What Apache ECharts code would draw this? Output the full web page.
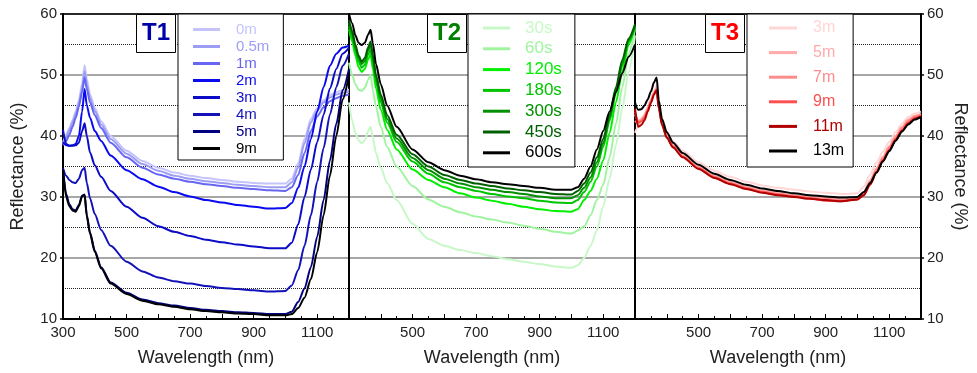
<!DOCTYPE html>
<html><head><meta charset="utf-8">
<script src="https://cdn.jsdelivr.net/npm/echarts@6/dist/echarts.min.js"></script>
<style>html,body{margin:0;padding:0;background:#fff}#c{width:977px;height:373px}</style>
</head><body><div id="c"></div>
<script>
// ---- data ----
const wavelengths = [300,310,320,330,340,350,360,368,375,385,400,420,450,500,550,600,650,700,750,800,850,900,950,1000,1020,1040,1060,1080,1100,1120,1140,1160,1180,1200];
const xTickLabels = [300,500,700,900,1100];
const yTickLabels = [10,20,30,40,50,60];

const t1Names = ['0m','0.5m','1m','2m','3m','4m','5m','9m'];
const t1_0m  = [38.9,40.2,41.3,42.6,44.0,45.9,48.6,51.6,49.3,46.8,44.6,42.4,40.0,37.6,35.9,34.8,34.0,33.5,33.1,32.8,32.5,32.3,32.2,32.2,33.0,35.5,39.5,42.8,44.6,45.8,46.7,47.2,47.5,47.6];
const t1_05m = [38.7,39.8,40.9,42.2,43.6,45.3,47.8,50.6,48.5,46.2,44.1,41.9,39.5,37.1,35.4,34.3,33.5,33.0,32.6,32.3,32.0,31.8,31.6,31.6,32.4,34.8,38.8,42.2,44.2,45.5,46.3,46.8,47.1,47.2];
const t1_1m  = [38.5,39.2,40.2,41.5,43.0,44.8,47.2,49.6,47.7,45.5,43.4,41.3,38.9,36.5,34.8,33.7,33.0,32.5,32.1,31.8,31.5,31.3,31.1,31.0,31.6,33.6,37.2,40.8,43.2,44.7,45.7,46.2,46.6,46.8];
const t1_2m  = [39.0,38.5,38.4,38.5,38.7,40.0,44.0,47.7,45.0,43.0,40.8,39.2,36.8,34.4,32.9,31.7,30.8,30.1,29.5,29.1,28.7,28.4,28.1,28.2,29.0,31.5,35.0,39.5,44.0,48.0,51.5,53.5,54.5,54.8];
const t1_3m  = [41.0,38.7,38.4,38.4,38.5,38.9,40.8,42.1,40.0,37.3,35.2,33.3,31.0,28.4,26.6,25.2,24.3,23.6,23.0,22.6,22.2,21.9,21.6,21.6,22.5,25.5,30.0,34.5,39.0,43.5,47.8,51.0,53.5,54.5];
const t1_4m  = [34.7,33.5,32.8,32.4,32.3,33.0,34.4,34.8,32.3,29.8,27.2,24.6,22.0,19.4,17.8,16.8,16.2,15.8,15.4,15.1,14.9,14.7,14.5,14.6,15.5,18.0,22.0,27.0,32.5,38.0,43.5,48.0,51.5,53.5];
const t1_5m  = [34.6,30.5,28.8,28.0,27.8,28.7,30.2,30.4,27.0,24.2,21.2,18.5,16.0,14.3,13.2,12.6,12.2,11.8,11.5,11.3,11.1,11.0,10.8,10.8,11.2,12.8,15.0,18.5,23.5,29.5,36.0,42.0,47.5,51.0];
const t1_9m  = [34.5,30.0,28.5,27.8,27.6,28.5,30.1,30.3,26.8,24.0,21.0,18.3,15.8,14.1,13.0,12.4,12.0,11.6,11.3,11.1,10.9,10.8,10.6,10.6,10.8,11.8,13.5,16.5,21.0,27.0,33.5,40.0,46.0,50.0];

const t2Names = ['30s','60s','120s','180s','300s','450s','600s'];
const t2_30s  = [45.5,42.5,40.5,39.3,38.8,39.3,40.8,41.5,39.8,37.2,34.8,32.3,29.5,25.6,23.1,22.0,21.3,20.8,20.3,19.8,19.4,19.0,18.6,18.4,18.8,20.0,22.0,24.5,28.5,33.0,38.5,44.5,50.5,56.5];
const t2_60s  = [52.0,50.0,48.5,47.6,47.4,47.9,49.2,50.0,47.5,44.8,41.5,38.2,35.0,31.8,29.6,28.4,27.5,26.8,26.3,25.8,25.3,24.8,24.3,24.0,24.5,25.2,27.0,29.5,32.0,36.5,42.0,48.0,53.5,57.5];
const t2_120s = [57.5,55.5,53.2,51.3,50.5,51.0,52.5,53.4,51.0,47.8,44.3,41.0,37.8,34.5,32.8,31.6,30.6,29.9,29.4,28.9,28.4,28.0,27.7,27.6,28.0,29.5,31.0,33.0,36.0,40.5,45.5,50.5,55.0,58.0];
const t2_180s = [58.0,56.2,54.0,52.2,51.2,51.7,53.3,54.2,52.0,48.8,45.5,42.2,39.0,35.8,33.8,32.4,31.6,31.0,30.5,30.1,29.8,29.4,29.1,29.0,29.5,30.8,32.5,35.0,38.2,42.5,47.0,51.5,55.5,57.8];
const t2_300s = [58.5,56.8,54.5,52.8,51.8,52.3,54.0,55.0,52.8,49.5,46.2,42.8,39.6,36.4,34.4,33.0,32.2,31.6,31.2,30.8,30.5,30.1,29.8,29.8,30.3,31.5,33.2,35.7,38.8,43.0,47.5,52.0,55.8,58.0];
const t2_450s = [59.0,57.2,55.0,53.2,52.2,52.8,54.5,55.5,53.3,50.0,46.8,43.4,40.2,37.0,35.0,33.6,32.8,32.2,31.8,31.4,31.1,30.8,30.5,30.4,31.0,32.2,34.0,36.5,39.5,43.5,48.0,52.5,56.0,58.3];
const t2_600s = [60.0,58.5,56.5,55.3,54.9,55.3,56.6,57.4,55.2,51.8,48.5,45.0,41.5,37.8,35.7,34.4,33.5,32.9,32.4,32.1,31.8,31.5,31.2,31.2,31.6,33.0,35.0,37.8,40.8,44.0,47.2,50.3,53.0,55.0];

const t3Names = ['3m','5m','7m','9m','11m','13m'];
const t3_3m  = [40.5,41.5,42.5,43.5,44.8,46.0,47.4,48.3,45.3,42.6,40.6,39.1,37.6,35.7,34.3,33.3,32.5,31.9,31.5,31.2,30.9,30.7,30.5,30.6,31.7,33.7,35.6,37.4,39.0,40.6,42.0,43.1,43.7,44.0];
const t3_5m  = [43.5,42.5,42.8,43.5,44.6,45.9,47.2,47.9,44.9,42.2,40.1,38.5,36.9,35.0,33.5,32.5,31.7,31.1,30.7,30.3,30.0,29.8,29.6,29.8,30.8,32.8,34.7,36.6,38.3,40.0,41.5,42.7,43.3,43.6];
const t3_7m  = [42.5,42.0,42.5,43.2,44.4,45.7,47.0,47.7,44.7,42.0,39.9,38.3,36.7,34.8,33.3,32.3,31.5,30.9,30.5,30.2,29.9,29.7,29.5,29.7,30.6,32.5,34.5,36.4,38.1,39.8,41.3,42.5,43.2,43.5];
const t3_9m  = [44.0,42.3,42.4,43.0,44.2,45.6,46.9,47.6,44.6,41.9,39.8,38.2,36.6,34.7,33.2,32.2,31.4,30.8,30.4,30.1,29.8,29.4,29.3,29.6,30.4,32.2,34.2,36.1,37.8,39.5,41.0,42.2,43.0,43.3];
const t3_11m = [44.5,41.5,41.8,42.6,44.0,45.4,46.8,47.5,44.5,41.8,39.7,38.1,36.5,34.6,33.1,32.1,31.3,30.7,30.3,30.0,29.7,29.5,29.3,29.6,30.3,32.0,34.0,35.9,37.6,39.3,40.8,42.0,42.8,43.2];
const t3_13m = [45.5,44.3,44.4,45.0,46.0,47.3,48.8,49.6,45.8,42.8,40.6,38.9,37.2,35.3,33.8,32.8,32.0,31.4,31.0,30.6,30.3,30.1,29.9,30.0,30.8,32.3,34.0,35.8,37.5,39.2,40.7,41.9,42.7,43.1];

// ---- styles ----
const t1Colors = ['#c4c4fa','#9d9df5','#6666f2','#0a0af0','#0c0cc8','#1212b8','#000080','#000000'];
const t2Colors = ['#c8f8c8','#a0f4a0','#00f000','#00c400','#009000','#006000','#000000'];
const t3Colors = ['#ffd6d6','#ffabab','#ff8c8c','#ff5050','#b00000','#000000'];

const panels = [
  {tag:'T1', names:t1Names, colors:t1Colors, data:[t1_0m,t1_05m,t1_1m,t1_2m,t1_3m,t1_4m,t1_5m,t1_9m], titleColor:'#0000a8'},
  {tag:'T2', names:t2Names, colors:t2Colors, data:[t2_30s,t2_60s,t2_120s,t2_180s,t2_300s,t2_450s,t2_600s], titleColor:'#008000'},
  {tag:'T3', names:t3Names, colors:t3Colors, data:[t3_3m,t3_5m,t3_7m,t3_9m,t3_11m,t3_13m], titleColor:'#ff0000'}
];

const FONT = '"Liberation Sans", Arial, sans-serif';
const gridLefts = [63, 349, 635];
const gridW = 286;

const grids = gridLefts.map(l => ({left:l, top:14, width:gridW, height:305, show:false}));

const xAxes = [];
gridLefts.forEach((l, p) => {
  xAxes.push({
    gridIndex:p, type:'value', min:300, max:1200, interval:100, position:'bottom',
    axisLine:{show:true, onZero:false, lineStyle:{color:'#000', width:2}},
    axisTick:{show:true, inside:true, length:5, lineStyle:{color:'#000', width:1}},
    minorTick:{show:true, splitNumber:2, length:3, lineStyle:{color:'#000', width:1}},
    splitLine:{show:false},
    axisLabel:{fontSize:15, color:'#222', fontFamily:FONT, margin:6,
      formatter: v => (xTickLabels.includes(v) && !(p > 0 && v === 300)) ? String(v) : ''},
    name:'Wavelength (nm)', nameLocation:'middle', nameGap:30,
    nameTextStyle:{fontSize:18, color:'#222', fontFamily:FONT}
  });
});
gridLefts.forEach((l, p) => {
  xAxes.push({
    gridIndex:p, type:'value', min:300, max:1200, position:'top',
    axisLine:{show:true, onZero:false, lineStyle:{color:'#000', width:1.5}},
    axisTick:{show:false}, axisLabel:{show:false}, splitLine:{show:false}
  });
});

const yAxes = [];
gridLefts.forEach((l, p) => {
  yAxes.push({
    gridIndex:p, type:'value', min:10, max:60, interval:10, position:'left',
    axisLine:{show:true, onZero:false, lineStyle:{color:'#000', width:2}},
    axisTick:{show:p===0, length:3, lineStyle:{color:'#000', width:1.5}},
    axisLabel:{show:p===0, fontSize:15, color:'#222', fontFamily:FONT, margin:6,
      formatter: v => yTickLabels.includes(v) ? String(v) : ''},
    splitLine:{show:true, lineStyle:{color:'#8a8a8a', width:1.5}},
    minorTick:{show:false, splitNumber:2},
    minorSplitLine:{show:true, lineStyle:{color:'#222', type:'dotted', width:1}},
    name: p===0 ? 'Reflectance (%)' : '', nameLocation:'middle', nameGap:36,
    nameTextStyle:{fontSize:18, color:'#222', fontFamily:FONT}
  });
});
yAxes.push({
  gridIndex:2, type:'value', min:10, max:60, interval:10, position:'right',
  axisLine:{show:true, onZero:false, lineStyle:{color:'#000', width:2}},
  axisTick:{show:true, length:3, lineStyle:{color:'#000', width:1.5}},
  axisLabel:{fontSize:15, color:'#222', fontFamily:FONT, margin:6,
    formatter: v => yTickLabels.includes(v) ? String(v) : ''},
  splitLine:{show:false},
  name:'Reflectance (%)', nameLocation:'middle', nameGap:30, nameRotate:-90,
  nameTextStyle:{fontSize:18, color:'#222', fontFamily:FONT}
});

const series = [];
panels.forEach((pn, p) => {
  pn.names.forEach((nm, i) => {
    series.push({
      name: pn.tag + ' ' + nm, type:'line', xAxisIndex:p, yAxisIndex:p,
      data: wavelengths.map((w, k) => [w, pn.data[i][k]]),
      showSymbol:false, symbol:'none', smooth:0.25, smoothMonotone:'x',
      lineStyle:{width:2, color:pn.colors[i]}, itemStyle:{color:pn.colors[i]},
      emphasis:{disabled:true}, z:2 + i*0.01
    });
  });
});

const legendBoxes = [
  {left:178, padding:[8,14,4,15], fontSize:15, lineHeight:14, gap:2, textPad:11, iconW:27},
  {left:468, padding:[5.5,13,5.7,15], fontSize:17, lineHeight:17, gap:3.8, textPad:10, iconW:27},
  {left:747, padding:[6,9,8,22], fontSize:16, lineHeight:16, gap:8.6, textPad:11, iconW:28}
];
const legends = panels.map((pn, p) => {
  const lb = legendBoxes[p];
  return {
    orient:'vertical', left:lb.left, top:14, padding:lb.padding, itemGap:lb.gap,
    itemWidth:lb.iconW, itemHeight:3, icon:'rect', selectedMode:false,
    backgroundColor:'#fff', borderColor:'#000', borderWidth:1, borderRadius:0,
    formatter: name => name.replace(/^T\d /, ''),
    textStyle:{fontSize:lb.fontSize, lineHeight:lb.lineHeight, fontFamily:FONT, padding:[0,0,0,lb.textPad]},
    data: pn.names.map((nm, i) => ({name: pn.tag + ' ' + nm, textStyle:{color: pn.colors[i]}}))
  };
});

const titleLefts = [136, 427, 705];
const titles = panels.map((pn, p) => ({
  text: pn.tag, left: titleLefts[p], top: 14, padding:[7,6,7,6],
  backgroundColor:'#fff', borderColor:'#000', borderWidth:1,
  textStyle:{fontSize:24, fontWeight:'bold', color:pn.titleColor, fontFamily:FONT, lineHeight:25}
}));

const chart = echarts.init(document.getElementById('c'), null, {renderer:'canvas'});
chart.setOption({
  backgroundColor:'#fff', animation:false,
  title: titles, legend: legends, grid: grids,
  xAxis: xAxes, yAxis: yAxes, series: series
});
</script>
</body></html>
